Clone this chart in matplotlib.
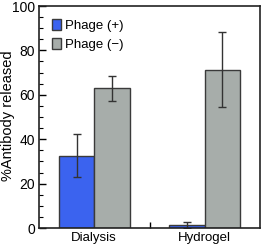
import matplotlib
matplotlib.use("Agg")
import matplotlib.pyplot as plt
from matplotlib.ticker import MultipleLocator, FixedLocator
import numpy as np

plt.rcParams['font.family'] = ['Liberation Sans', 'DejaVu Sans']

categories = ["Dialysis", "Hydrogel"]
series_names = ["Phage (+)", "Phage (\u2212)"]
phage_pos = [32.5, 1.2]
phage_pos_err = [9.7, 1.3]
phage_neg = [63.0, 71.3]
phage_neg_err = [5.6, 17.0]

colors = ["#3b63ef", "#a7adaa"]
edge = "#3a3a3a"

fig = plt.figure(figsize=(2.63, 2.47), dpi=100)
ax = fig.add_axes([39/263, 1 - 228/247, (260-39)/263, (228-6)/247])

x = np.arange(len(categories))
w = 0.32
ax.bar(x - w/2, phage_pos, w, yerr=phage_pos_err, color=colors[0], edgecolor=edge,
       linewidth=1.0, label=series_names[0],
       error_kw=dict(ecolor="#333333", elinewidth=1.0, capsize=3, capthick=1.0))
ax.bar(x + w/2, phage_neg, w, yerr=phage_neg_err, color=colors[1], edgecolor=edge,
       linewidth=1.0, label=series_names[1],
       error_kw=dict(ecolor="#333333", elinewidth=1.0, capsize=3, capthick=1.0))

ax.set_xlim(-0.5, 1.5)
ax.set_ylim(0, 100)
ax.set_xticks(x)
ax.set_xticklabels(categories, fontsize=9.5)
ax.xaxis.set_minor_locator(FixedLocator([0.5]))
ax.tick_params(axis='x', which='major', length=0, pad=3)
ax.tick_params(axis='x', which='minor', direction='in', length=4, width=1.0, bottom=True)
ax.yaxis.set_major_locator(MultipleLocator(20))
ax.yaxis.set_minor_locator(MultipleLocator(5))
ax.tick_params(axis='y', which='major', direction='in', length=5, width=1.0, labelsize=10, pad=3)
ax.tick_params(axis='y', which='minor', direction='in', length=3, width=0.8)
ax.set_ylabel("%Antibody released", fontsize=10.5)
ax.yaxis.set_label_coords(-24/221, (228-115.5)/222)

for s in ax.spines.values():
    s.set_linewidth(1.2)
    s.set_color("#222222")

leg = ax.legend(loc='upper left', fontsize=9.5, frameon=False, handlelength=0.7,
                handleheight=0.9, handletextpad=0.25, borderaxespad=0.6,
                labelspacing=0.45)

fig.savefig("out.png", dpi=100)
